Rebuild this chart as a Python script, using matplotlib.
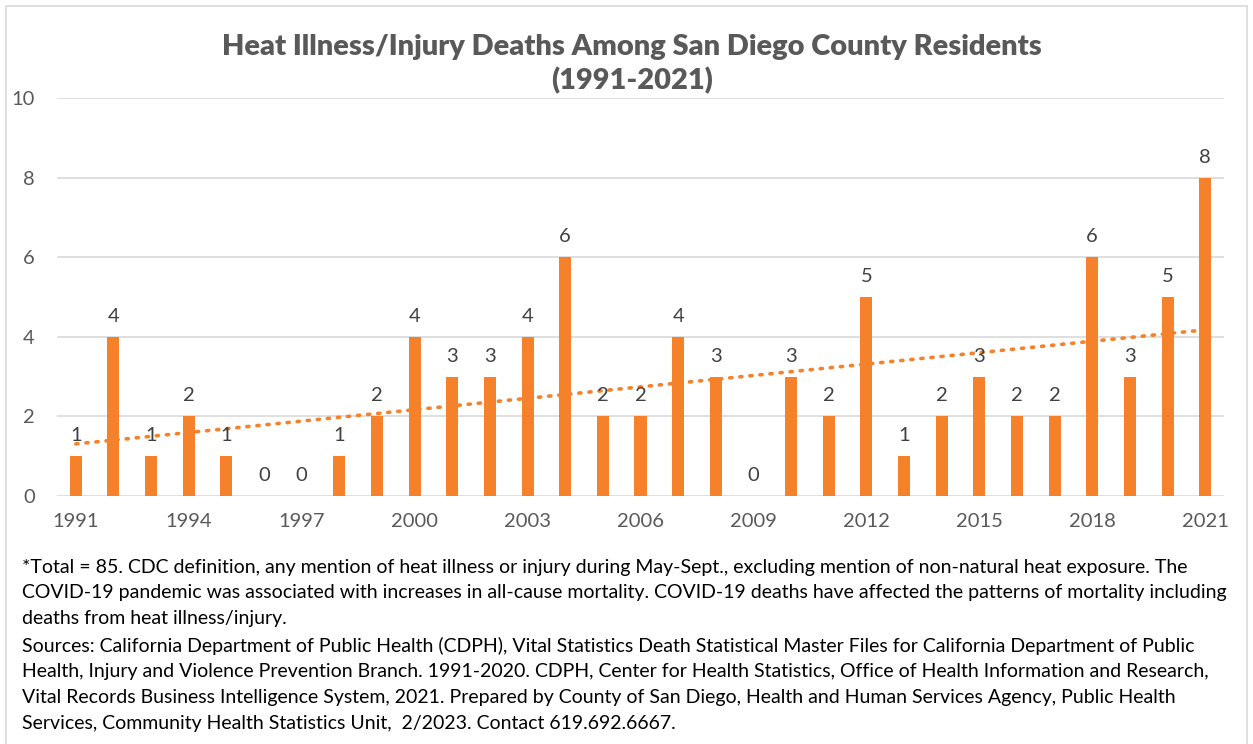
import matplotlib.pyplot as plt
import numpy as np
from matplotlib.patches import Rectangle

plt.rcParams['font.family'] = ['Lato', 'DejaVu Sans']

# data
years = list(range(1991, 2022))
deaths = [1, 4, 1, 2, 1, 0, 0, 1, 2, 4,
          3, 3, 4, 6, 2, 2, 4, 3, 0, 3,
          2, 5, 1, 2, 3, 2, 2, 6, 3, 5,
          8]
tick_years = list(range(1991, 2022, 3))

title = "Heat Illness/Injury Deaths Among San Diego County Residents\n(1991-2021)"
footnote = [
    "*Total = 85. CDC definition, any mention of heat illness or injury during May-Sept., excluding mention of non-natural heat exposure. The",
    "COVID-19 pandemic was associated with increases in all-cause mortality. COVID-19 deaths have affected the patterns of mortality including",
    "deaths from heat illness/injury.",
    "Sources: California Department of Public Health (CDPH), Vital Statistics Death Statistical Master Files for California Department of Public",
    "Health, Injury and Violence Prevention Branch. 1991-2020. CDPH, Center for Health Statistics, Office of Health Information and Research,",
    "Vital Records Business Intelligence System, 2021. Prepared by County of San Diego, Health and Human Services Agency, Public Health",
    "Services, Community Health Statistics Unit,  2/2023. Contact 619.692.6667.",
]

orange = "#F5822A"
W, H = 1253, 744
fig = plt.figure(figsize=(W / 100, H / 100), dpi=100)

# chart border
fig.patches.append(Rectangle((6 / W, -0.01), (W - 12) / W, 1 - 6 / H + 0.01,
                             transform=fig.transFigure, fill=False,
                             edgecolor="#D9D9D9", linewidth=1.2))

ax = fig.add_axes([57 / W, 1 - 496 / H, (1224 - 57) / W, (496 - 98) / H])
x = np.arange(len(years))
ax.bar(x, deaths, width=0.32, color=orange, zorder=2)

for xi, v in zip(x, deaths):
    ax.text(xi, v + 0.3, str(v), ha="center", va="bottom",
            fontsize=14.5, color="#404040", zorder=4)

# linear trend line
coef = np.polyfit(x, deaths, 1)
ax.plot(x, np.polyval(coef, x), linestyle=(0, (0.6, 2.2)), dash_capstyle="round",
        color=orange, linewidth=2.6, zorder=3)

ax.set_xlim(-0.5, len(years) - 0.5)
ax.set_ylim(0, 10)
ax.set_yticks([0, 2, 4, 6, 8, 10])
ax.set_xticks([years.index(y) for y in tick_years])
ax.set_xticklabels([str(y) for y in tick_years])
ax.tick_params(length=0, labelsize=14.5, labelcolor="#595959")
ax.tick_params(axis="x", pad=12)
ax.tick_params(axis="y", pad=16)

ax.grid(axis="y", color="#D9D9D9", linewidth=1.2, zorder=0)
ax.set_axisbelow(True)
for s in ax.spines.values():
    s.set_visible(False)

fig.text(632 / W, 1 - 64 / H, title, ha="center", va="center", fontsize=20.9,
         fontweight="heavy", color="#595959", linespacing=1.3)

for i, line in enumerate(footnote):
    y = 567 + i * 25.8 + (1.5 if i >= 3 else 0)
    fig.text(22 / W, 1 - y / H, line, ha="left", va="center", fontsize=14.0,
             color="#000000")

fig.savefig("out.png", dpi=100)
